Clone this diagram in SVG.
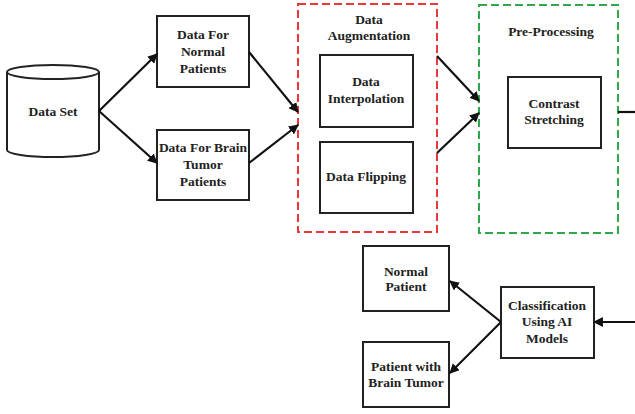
<svg xmlns="http://www.w3.org/2000/svg" width="635" height="414" viewBox="0 0 635 414">
<defs>
<style>
.box{fill:#fff;stroke:#222;stroke-width:2}
.t{font-family:"Liberation Serif","Times New Roman",serif;font-weight:bold;font-size:13.5px;fill:#222;text-anchor:middle}
.c{stroke:#111;stroke-width:2.2;fill:none}
</style>
<marker id="ah" viewBox="0 0 10 10" refX="9" refY="5" markerWidth="4.5" markerHeight="4.5" orient="auto" markerUnits="strokeWidth">
<path d="M0,0 L10,5 L0,10 z" fill="#111"/>
</marker>
</defs>
<rect width="635" height="414" fill="#fff"/>
<g id="data-set">
<path d="M7,72 L7,150 A46,7 0 0 0 99,150 L99,72" class="box"/>
<ellipse cx="53" cy="72" rx="46" ry="7" class="box"/>
<text class="t" x="53" y="116">Data Set</text>
</g>
<g id="normal-data">
<rect class="box" x="157" y="16" width="92" height="71"/>
<text class="t" x="203" y="39">Data For</text>
<text class="t" x="203" y="56">Normal</text>
<text class="t" x="203" y="73">Patients</text>
</g>
<g id="tumor-data">
<rect class="box" x="157" y="130" width="92" height="70"/>
<text class="t" x="203" y="152">Data For Brain</text>
<text class="t" x="203" y="169">Tumor</text>
<text class="t" x="203" y="186">Patients</text>
</g>
<g id="augmentation">
<rect x="298" y="4" width="139" height="228" fill="none" stroke="#e8383a" stroke-width="2" stroke-dasharray="8,4"/>
<text class="t" x="369" y="24">Data</text>
<text class="t" x="369" y="40">Augmentation</text>
</g>
<g id="interpolation">
<rect class="box" x="320" y="55" width="93" height="72"/>
<text class="t" x="366" y="86">Data</text>
<text class="t" x="366" y="103">Interpolation</text>
</g>
<g id="flipping">
<rect class="box" x="320" y="142" width="93" height="71"/>
<text class="t" x="366" y="181">Data Flipping</text>
</g>
<g id="preprocessing">
<rect x="479" y="5" width="139" height="228" fill="none" stroke="#2ea84a" stroke-width="2" stroke-dasharray="8,4"/>
<text class="t" x="551" y="36">Pre-Processing</text>
</g>
<g id="contrast">
<rect class="box" x="508" y="77" width="93" height="71"/>
<text class="t" x="554" y="108">Contrast</text>
<text class="t" x="554" y="124">Stretching</text>
</g>
<g id="classification">
<rect class="box" x="501" y="287" width="93" height="71"/>
<text class="t" x="547" y="310">Classification</text>
<text class="t" x="547" y="326">Using AI</text>
<text class="t" x="547" y="343">Models</text>
</g>
<g id="normal-patient">
<rect class="box" x="363" y="246" width="86" height="65"/>
<text class="t" x="406" y="276">Normal</text>
<text class="t" x="406" y="291">Patient</text>
</g>
<g id="tumor-patient">
<rect class="box" x="363" y="342" width="86" height="65"/>
<text class="t" x="406" y="371">Patient with</text>
<text class="t" x="406" y="387">Brain Tumor</text>
</g>
<g id="connectors">
<line class="c" x1="99" y1="111" x2="157" y2="54" marker-end="url(#ah)"/>
<line class="c" x1="99" y1="111" x2="157" y2="163" marker-end="url(#ah)"/>
<line class="c" x1="249" y1="52" x2="298" y2="112" marker-end="url(#ah)"/>
<line class="c" x1="249" y1="163" x2="298" y2="125" marker-end="url(#ah)"/>
<line class="c" x1="437" y1="56" x2="479" y2="101" marker-end="url(#ah)"/>
<line class="c" x1="437" y1="153" x2="479" y2="113" marker-end="url(#ah)"/>
<line class="c" x1="618" y1="112" x2="635" y2="112"/>
<line class="c" x1="635" y1="322" x2="594" y2="322" marker-end="url(#ah)"/>
<line class="c" x1="501" y1="322" x2="450" y2="281" marker-end="url(#ah)"/>
<line class="c" x1="501" y1="322" x2="450" y2="373" marker-end="url(#ah)"/>
</g>
</svg>
